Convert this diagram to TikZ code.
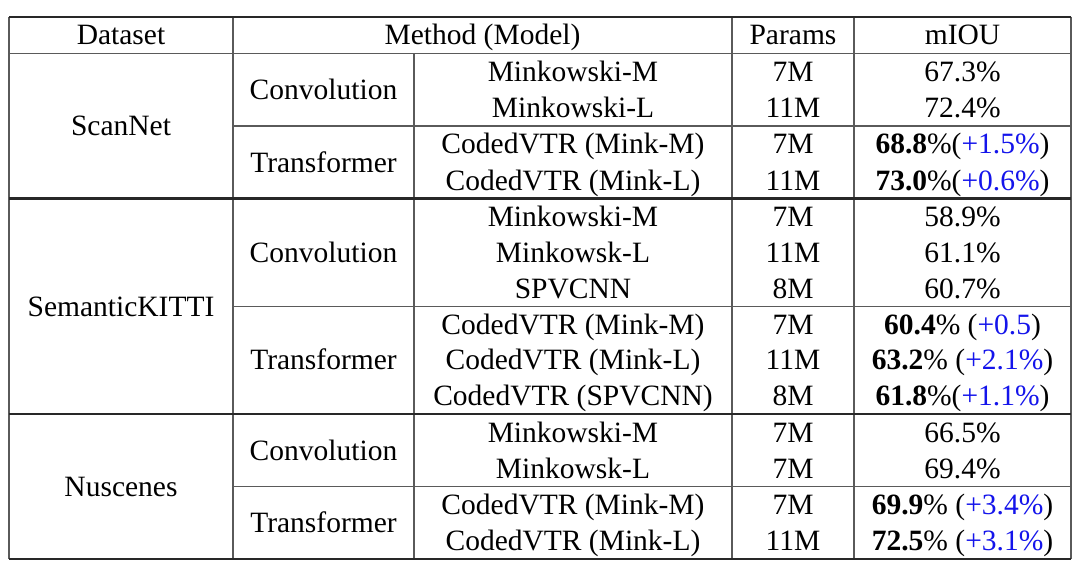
\documentclass[tikz,border=0pt]{standalone}
\usepackage{fontspec}
\setmainfont{Liberation Serif}
\definecolor{gainblue}{RGB}{20,20,235}
\definecolor{thickline}{RGB}{40,40,40}
\definecolor{thinline}{RGB}{90,90,90}
\newcommand{\gain}[1]{\textcolor{gainblue}{#1}}
\begin{document}
\begin{tikzpicture}[x=1pt,y=-1pt,
  cell/.style={anchor=base,inner sep=0pt,font=\fontsize{29.5}{32}\selectfont},
  heavy/.style={draw=thickline,line width=2.2pt},
  light/.style={draw=thinline,line width=1.3pt}]
\useasboundingbox (0,0) rectangle (1088,576);
\fill[white] (0,0) rectangle (1088,576);
% coordinates of rules
\def\xa{9}\def\xb{233}\def\xc{414}\def\xd{732}\def\xe{854}\def\xf{1071}
% vertical rules
\draw[light] (\xa,16.7) -- (\xa,559.3);
\draw[light] (\xb,16.7) -- (\xb,559.3);
\draw[light] (\xc,53.5) -- (\xc,559.3);
\draw[light] (\xd,16.7) -- (\xd,559.3);
\draw[light] (\xe,16.7) -- (\xe,559.3);
\draw[light] (\xf,16.7) -- (\xf,559.3);
% horizontal rules
\draw[light] (\xa,53.5) -- (\xf,53.5);
\draw[light] (\xb,126.0) -- (\xf,126.0);
\draw[light] (\xb,306.2) -- (\xf,306.2);
\draw[light] (\xb,486.6) -- (\xf,486.6);
\draw[heavy] (\xa,16.7) -- (\xf,16.7);
\draw[heavy] (\xa,198.5) -- (\xf,198.5);
\draw[heavy] (\xa,414.0) -- (\xf,414.0);
\draw[heavy] (\xa,559.3) -- (\xf,559.3);
% header
\node[cell] (hds) at (121,44.9) {Dataset};
\node[cell] (hme) at (482.5,44.9) {Method (Model)};
\node[cell] (hpa) at (793,44.9) {Params};
\node[cell] (hmi) at (962.5,44.9) {mIOU};
% dataset labels
\node[cell] (d1) at (121,135.8) {ScanNet};
\node[cell] (d2) at (121,316.0) {SemanticKITTI};
\node[cell] (d3) at (121,496.5) {Nuscenes};
% type labels
\node[cell] (t1) at (323.5,99.6) {Convolution};
\node[cell] (t2) at (323.5,172.1) {Transformer};
\node[cell] (t3) at (323.5,262.2) {Convolution};
\node[cell] (t4) at (323.5,369.9) {Transformer};
\node[cell] (t5) at (323.5,460.0) {Convolution};
\node[cell] (t6) at (323.5,532.7) {Transformer};
% ScanNet rows
\node[cell] (m1) at (573,81.4) {Minkowski-M};
\node[cell] (p1) at (793,81.4) {7M};
\node[cell] (r1) at (962.5,81.4) {67.3\%};
\node[cell] (m2) at (573,117.7) {Minkowski-L};
\node[cell] (p2) at (793,117.7) {11M};
\node[cell] (r2) at (962.5,117.7) {72.4\%};
\node[cell] (m3) at (573,153.9) {CodedVTR (Mink-M)};
\node[cell] (p3) at (793,153.9) {7M};
\node[cell] (r3) at (962.5,153.9) {\textbf{68.8}\%(\gain{+1.5\%})};
\node[cell] (m4) at (573,190.2) {CodedVTR (Mink-L)};
\node[cell] (p4) at (793,190.2) {11M};
\node[cell] (r4) at (962.5,190.2) {\textbf{73.0}\%(\gain{+0.6\%})};
% SemanticKITTI rows
\node[cell] (m5) at (573,226.3) {Minkowski-M};
\node[cell] (p5) at (793,226.3) {7M};
\node[cell] (r5) at (962.5,226.3) {58.9\%};
\node[cell] (m6) at (573,262.2) {Minkowsk-L};
\node[cell] (p6) at (793,262.2) {11M};
\node[cell] (r6) at (962.5,262.2) {61.1\%};
\node[cell] (m7) at (573,298.1) {SPVCNN};
\node[cell] (p7) at (793,298.1) {8M};
\node[cell] (r7) at (962.5,298.1) {60.7\%};
\node[cell] (m8) at (573,334.0) {CodedVTR (Mink-M)};
\node[cell] (p8) at (793,334.0) {7M};
\node[cell] (r8) at (962.5,334.0) {\textbf{60.4}\% (\gain{+0.5})};
\node[cell] (m9) at (573,369.9) {CodedVTR (Mink-L)};
\node[cell] (p9) at (793,369.9) {11M};
\node[cell] (r9) at (962.5,369.9) {\textbf{63.2}\% (\gain{+2.1\%})};
\node[cell] (m10) at (573,405.8) {CodedVTR (SPVCNN)};
\node[cell] (p10) at (793,405.8) {8M};
\node[cell] (r10) at (962.5,405.8) {\textbf{61.8}\%(\gain{+1.1\%})};
% Nuscenes rows
\node[cell] (m11) at (573,442.0) {Minkowski-M};
\node[cell] (p11) at (793,442.0) {7M};
\node[cell] (r11) at (962.5,442.0) {66.5\%};
\node[cell] (m12) at (573,478.3) {Minkowsk-L};
\node[cell] (p12) at (793,478.3) {7M};
\node[cell] (r12) at (962.5,478.3) {69.4\%};
\node[cell] (m13) at (573,514.6) {CodedVTR (Mink-M)};
\node[cell] (p13) at (793,514.6) {7M};
\node[cell] (r13) at (962.5,514.6) {\textbf{69.9}\% (\gain{+3.4\%})};
\node[cell] (m14) at (573,550.9) {CodedVTR (Mink-L)};
\node[cell] (p14) at (793,550.9) {11M};
\node[cell] (r14) at (962.5,550.9) {\textbf{72.5}\% (\gain{+3.1\%})};
\end{tikzpicture}
\end{document}
